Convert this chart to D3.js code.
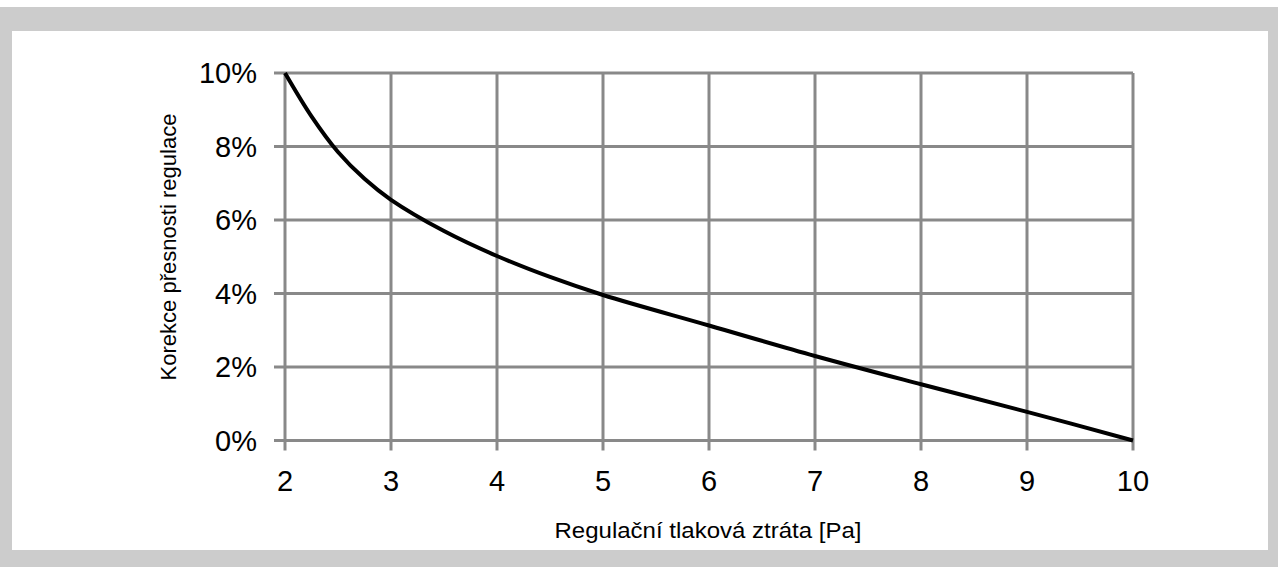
<!DOCTYPE html>
<html>
<head>
<meta charset="utf-8">
<script src="https://cdn.jsdelivr.net/npm/d3@7"></script>
<style>
  html, body { margin: 0; padding: 0; background: #ffffff; }
  svg { display: block; }
</style>
</head>
<body>
<svg id="chart" width="1278" height="567"></svg>
<script>
// ---- data ----
const pressureLoss = [2, 2.25, 2.5, 2.75, 3, 3.5, 4, 4.5, 5, 6, 7, 8, 9, 10];
const correction   = [10, 8.82, 7.85, 7.12, 6.55, 5.7, 5.02, 4.45, 3.96, 3.13, 2.3, 1.53, 0.78, 0];
const xTicks = [2, 3, 4, 5, 6, 7, 8, 9, 10];
const yTicks = [0, 2, 4, 6, 8, 10];
const xTitle = "Regulační tlaková ztráta [Pa]";
const yTitle = "Korekce přesnosti regulace";

const svg = d3.select("#chart");
const font = "Arial, 'Liberation Sans', sans-serif";

// frame
svg.append("rect").attr("x", 0).attr("y", 7).attr("width", 1278).attr("height", 560).attr("fill", "#cccccc");
svg.append("rect").attr("x", 12).attr("y", 31).attr("width", 1256).attr("height", 519).attr("fill", "#ffffff");

const x = d3.scaleLinear().domain([2, 10]).range([285, 1133]);
const y = d3.scaleLinear().domain([0, 10]).range([440.5, 73]);

const grid = svg.append("g");
grid.selectAll("line.v").data(xTicks).join("line")
  .attr("x1", d => x(d)).attr("x2", d => x(d))
  .attr("y1", y(10)).attr("y2", y(0) + 10)
  .attr("stroke", "#898989").attr("stroke-width", 3);
grid.selectAll("line.h").data(yTicks).join("line")
  .attr("x1", x(2) - 11).attr("x2", x(10))
  .attr("y1", d => y(d)).attr("y2", d => y(d))
  .attr("stroke", "#898989").attr("stroke-width", 3);

// tick labels
svg.append("g").selectAll("text").data(yTicks).join("text")
  .attr("x", 257).attr("y", d => y(d)).attr("dy", "0.36em")
  .attr("text-anchor", "end")
  .attr("font-family", font).attr("font-size", 29).attr("fill", "#000")
  .text(d => d + "%");
svg.append("g").selectAll("text").data(xTicks).join("text")
  .attr("x", d => x(d)).attr("y", 491)
  .attr("text-anchor", "middle")
  .attr("font-family", font).attr("font-size", 29).attr("fill", "#000")
  .text(d => d);

// axis titles
svg.append("text").attr("x", 708).attr("y", 538)
  .attr("text-anchor", "middle").attr("font-family", font).attr("font-size", 22).attr("fill", "#000")
  .attr("textLength", 307).attr("lengthAdjust", "spacingAndGlyphs")
  .text(xTitle);
svg.append("text").attr("transform", "translate(176,247) rotate(-90)")
  .attr("text-anchor", "middle").attr("font-family", font).attr("font-size", 22).attr("fill", "#000")
  .attr("textLength", 267).attr("lengthAdjust", "spacingAndGlyphs")
  .text(yTitle);

// curve
const pts = pressureLoss.map((v, i) => [v, correction[i]]);
const line = d3.line().x(d => x(d[0])).y(d => y(d[1])).curve(d3.curveCatmullRom.alpha(0.5));
svg.append("path").datum(pts).attr("d", line)
  .attr("fill", "none").attr("stroke", "#000").attr("stroke-width", 4).attr("stroke-linejoin", "round");
</script>
</body>
</html>
